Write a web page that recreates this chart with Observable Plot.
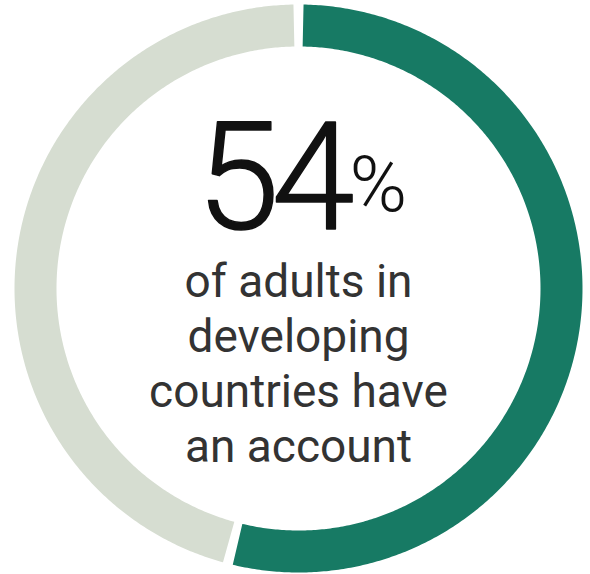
<!DOCTYPE html>
<html>
<head>
<meta charset="utf-8">
<script src="https://cdn.jsdelivr.net/npm/d3@7"></script>
<script src="https://cdn.jsdelivr.net/npm/@observablehq/plot@0.6"></script>
<style>
  html, body { margin: 0; padding: 0; background: #ffffff; }
  #chart svg { display: block; }
</style>
</head>
<body>
<div id="chart"></div>
<script>
// ---- Data ----
const categories = ["Have an account", "No account"];
const shares = [54, 46];
const colors = ["#177a64", "#d6ddd1"];
const bigNumber = "54";
const unit = "%";
const captionLines = ["of adults in", "developing", "countries have", "an account"];

// ---- Build arc geometry from the shares ----
const total = d3.sum(shares);
const padDeg = 1.0;
const arcPoints = [];
let acc = 0;
categories.forEach((c, i) => {
  const a0 = (acc / total) * 360 + padDeg;
  acc += shares[i];
  const a1 = (acc / total) * 360 - padDeg;
  const n = Math.ceil((a1 - a0) / 0.5);
  for (let k = 0; k <= n; k++) {
    const a = (a0 + (a1 - a0) * k / n) * Math.PI / 180;
    arcPoints.push({category: c, x: Math.sin(a), y: Math.cos(a)});
  }
});

const cx = 298, cy = 288;
const lineDy = [8, 63, 118, 173];

const chart = Plot.plot({
  width: 590,
  height: 574,
  margin: 0,
  x: {domain: [-1, 1], range: [cx - 263, cx + 263], axis: null},
  y: {domain: [-1, 1], range: [cy + 263, cy - 263], axis: null},
  color: {domain: categories, range: colors},
  marks: [
    Plot.line(arcPoints, {
      x: "x", y: "y", z: "category", stroke: "category",
      strokeWidth: 42, strokeLinecap: "butt", strokeLinejoin: "round", curve: "linear"
    }),
    Plot.text([bigNumber], {
      x: () => 0, y: () => 0, text: d => d,
      dx: -27, dy: -60, lineAnchor: "bottom", textAnchor: "middle",
      fontSize: 150, fontFamily: "Roboto", fontWeight: 300, fill: "#111111",
      stroke: "#111111", strokeWidth: 1.5
    }),
    Plot.text([unit], {
      x: () => 0, y: () => 0, text: d => d,
      dx: 51, dy: -78, lineAnchor: "bottom", textAnchor: "start",
      fontSize: 78, fontFamily: "Roboto", fontWeight: 300, fill: "#111111"
    }),
    Plot.text(captionLines, {
      x: () => 0, y: () => 0, text: d => d,
      lineAnchor: "bottom", textAnchor: "middle",
      fontSize: 46, fontFamily: "Roboto", fontWeight: 400, fill: "#333333"
    })
  ]
});

// offset caption lines vertically
d3.select(chart).selectAll("g[aria-label='text']").filter((d, i) => i === 2)
  .selectAll("text").attr("transform", function(d, i) {
    const t = d3.select(this).attr("transform") || "";
    return t + ` translate(0,${lineDy[i]})`;
  });
d3.select(chart).selectAll("g[aria-label='text']").filter((d, i) => i === 0)
  .selectAll("text").attr("letter-spacing", "-8");

document.getElementById("chart").appendChild(chart);
</script>
</body>
</html>
